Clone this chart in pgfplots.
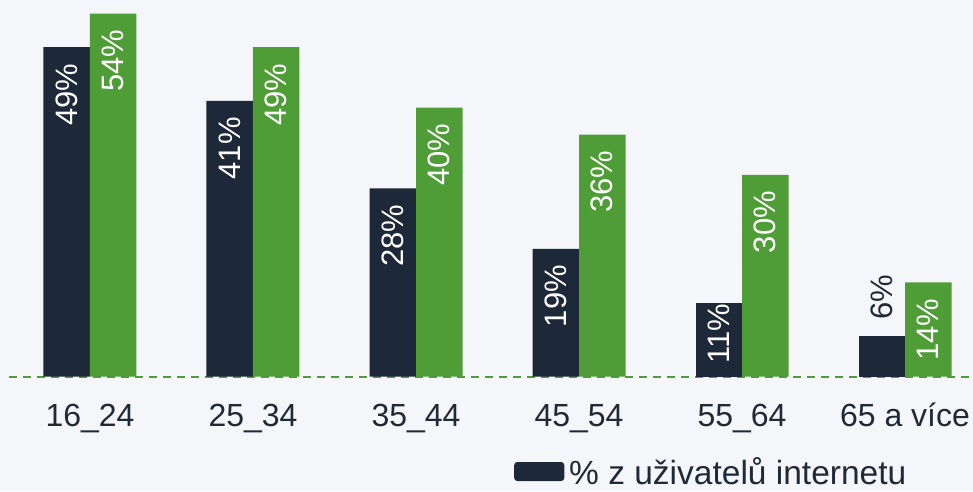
\documentclass[border=0pt]{standalone}
\usepackage{fontspec}
\setmainfont{Liberation Sans}
\usepackage{pgfplots}
\pgfplotsset{compat=1.18}
\definecolor{bg}{HTML}{F5F6FA}
\definecolor{navy}{HTML}{1D2838}
\definecolor{lgreen}{HTML}{4E9D36}
\definecolor{txt}{HTML}{1F2A37}

\begin{document}
\begin{tikzpicture}
\fill[bg] (0pt,0pt) rectangle (973pt,491pt);
\useasboundingbox (0pt,0pt) rectangle (973pt,491pt);
\begin{axis}[at={(0pt,114.5pt)}, anchor=south west,
  scale only axis, width=973pt, height=376.5pt,
  xmin=-0.5521, xmax=5.4172, ymin=0, ymax=56.03,
  axis line style={draw=none}, major tick length=0pt, clip=false,
  ybar, bar width=46.5pt,
  xtick={0,1,2,3,4,5}, xticklabels={16\_24,25\_34,35\_44,45\_54,55\_64,65 a více},
  xticklabel style={anchor=base, yshift=-50pt, text=txt, font=\fontsize{32}{38}\selectfont},
  ytick=\empty,
  /pgf/number format/assume math mode=true,
  every node near coord/.append style={font=\fontsize{31}{36}\selectfont},
  legend style={at={(axis description cs:0.5283,-0.2523)}, anchor=west,
    draw=none, fill=none, inner sep=0pt, text=txt,
    font=\fontsize{33.5}{38}\selectfont,
    nodes={inner sep=0pt},
    /tikz/every odd column/.append style={column sep=5pt}},
  legend image code/.code={\fill[#1, rounded corners=3pt] (0pt,-9.5pt) rectangle (50pt,9.5pt);},
]
\draw[lgreen, line width=2pt, dash pattern=on 8pt off 6pt] (axis cs:-0.4969,0) -- (axis cs:5.4172,0);
% dark bars, labels inside near the top
\addplot[fill=navy, draw=none, bar shift=-23.25pt,
  nodes near coords={\pgfmathprintnumber{\pgfplotspointmeta}\%},
  every node near coord/.append style={rotate=90, anchor=east, inner xsep=16pt, text=white}]
  coordinates {(0,49) (1,41) (2,28) (3,19)};
\addlegendentry{\% z uživatelů internetu}
% short bar: label fills the bar
\addplot[fill=navy, draw=none, bar shift=-23.25pt, forget plot,
  nodes near coords={\pgfmathprintnumber{\pgfplotspointmeta}\%},
  every node near coord/.append style={rotate=90, anchor=east, inner xsep=1pt, text=white}]
  coordinates {(4,11)};
% shortest bar: label above
\addplot[fill=navy, draw=none, bar shift=-23.25pt, forget plot,
  nodes near coords={\pgfmathprintnumber{\pgfplotspointmeta}\%},
  every node near coord/.append style={rotate=90, anchor=west, inner xsep=16pt, text=txt}]
  coordinates {(5,6)};
\addplot[fill=lgreen, draw=none, bar shift=23.25pt, forget plot,
  nodes near coords={\pgfmathprintnumber{\pgfplotspointmeta}\%},
  every node near coord/.append style={rotate=90, anchor=east, inner xsep=16pt, text=white}]
  coordinates {(0,54) (1,49) (2,40) (3,36) (4,30) (5,14)};
\end{axis}
\end{tikzpicture}
\end{document}
